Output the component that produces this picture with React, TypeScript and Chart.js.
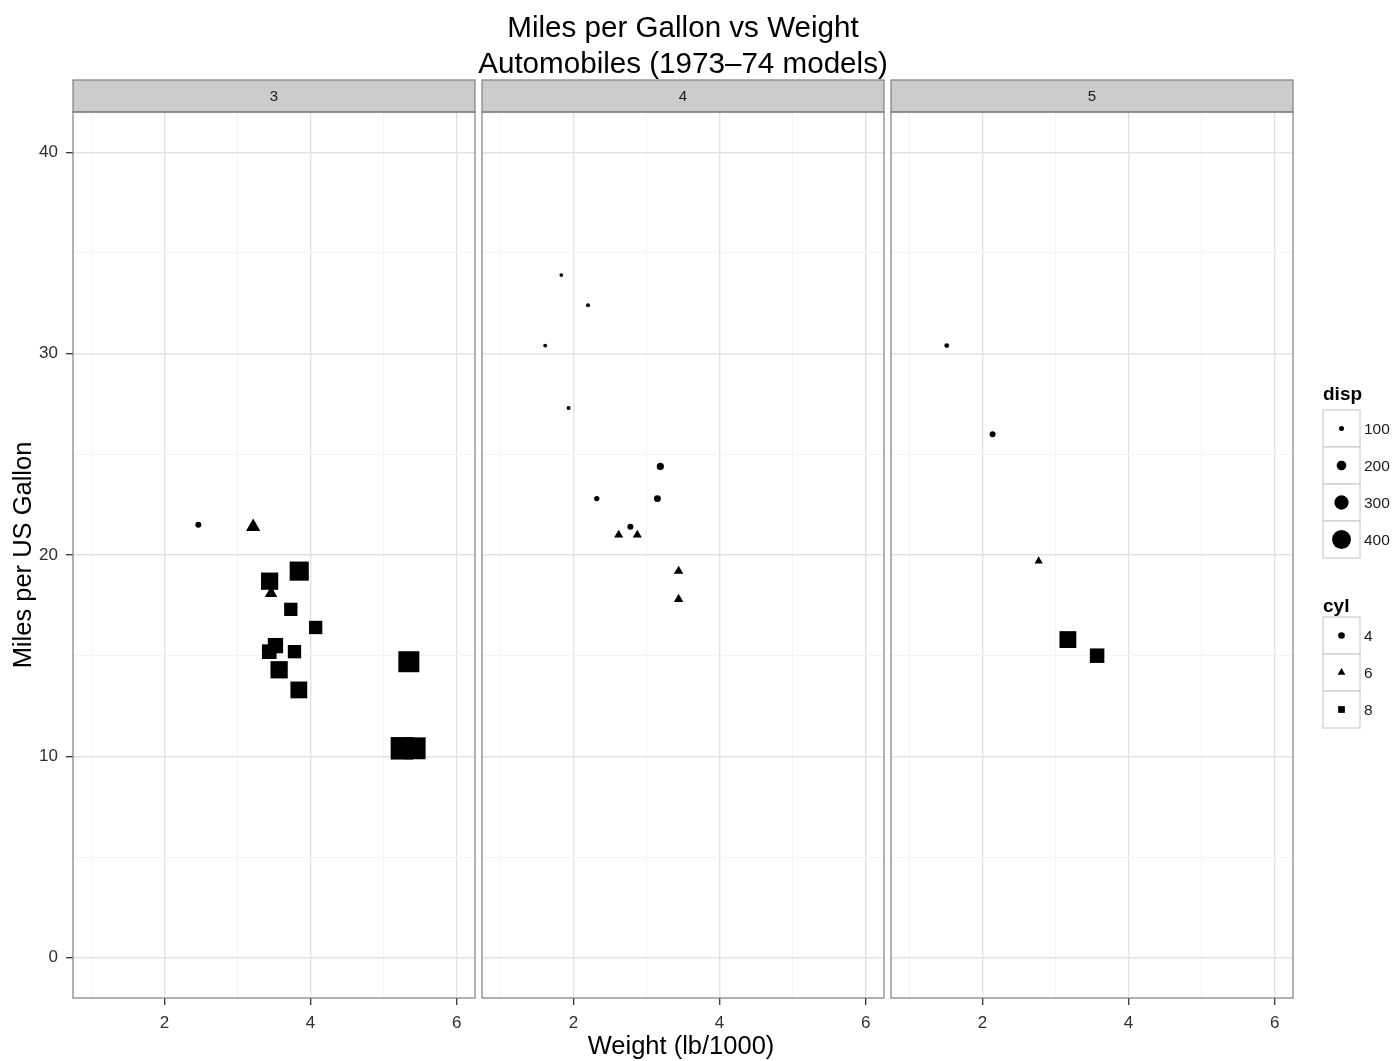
import React, { useEffect, useRef } from 'react';
import { Chart, registerables } from 'chart.js';

Chart.register(...registerables);

// ---------------- data (mtcars) ----------------
const carNames = [
  'Mazda RX4', 'Mazda RX4 Wag', 'Datsun 710', 'Hornet 4 Drive', 'Hornet Sportabout', 'Valiant',
  'Duster 360', 'Merc 240D', 'Merc 230', 'Merc 280', 'Merc 280C', 'Merc 450SE', 'Merc 450SL',
  'Merc 450SLC', 'Cadillac Fleetwood', 'Lincoln Continental', 'Chrysler Imperial', 'Fiat 128',
  'Honda Civic', 'Toyota Corolla', 'Toyota Corona', 'Dodge Challenger', 'AMC Javelin', 'Camaro Z28',
  'Pontiac Firebird', 'Fiat X1-9', 'Porsche 914-2', 'Lotus Europa', 'Ford Pantera L', 'Ferrari Dino',
  'Maserati Bora', 'Volvo 142E',
];
const mpg = [21, 21, 22.8, 21.4, 18.7, 18.1, 14.3, 24.4, 22.8, 19.2, 17.8, 16.4, 17.3, 15.2, 10.4, 10.4,
  14.7, 32.4, 30.4, 33.9, 21.5, 15.5, 15.2, 13.3, 19.2, 27.3, 26, 30.4, 15.8, 19.7, 15, 21.4];
const wt = [2.62, 2.875, 2.32, 3.215, 3.44, 3.46, 3.57, 3.19, 3.15, 3.44, 3.44, 4.07, 3.73, 3.78, 5.25,
  5.424, 5.345, 2.2, 1.615, 1.835, 2.465, 3.52, 3.435, 3.84, 3.845, 1.935, 2.14, 1.513, 3.17, 2.77, 3.57, 2.78];
const cyl = [6, 6, 4, 6, 8, 6, 8, 4, 4, 6, 6, 8, 8, 8, 8, 8, 8, 4, 4, 4, 4, 8, 8, 8, 8, 4, 4, 4, 8, 6, 8, 4];
const disp = [160, 160, 108, 258, 360, 225, 360, 146.7, 140.8, 167.6, 167.6, 275.8, 275.8, 275.8, 472, 460,
  440, 78.7, 75.7, 71.1, 120.1, 318, 304, 350, 400, 79, 120.3, 95.1, 351, 145, 301, 121];
const gear = [4, 4, 4, 3, 3, 3, 3, 4, 4, 4, 4, 3, 3, 3, 3, 3, 3, 4, 4, 4, 3, 3, 3, 3, 3, 4, 5, 5, 5, 5, 5, 4];

const gearLevels = [3, 4, 5];
const cylLevels = [4, 6, 8];
const dispBreaks = [100, 200, 300, 400];
const xMajorTicks = [2, 4, 6];
const xMinorTicks = [1, 3, 5];
const yMajorTicks = [0, 10, 20, 30, 40];
const yMinorTicks = [5, 15, 25, 35];
const xLimits = [0.75, 6.25];
const yLimits = [-2, 42];

const titleLines = ['Miles per Gallon vs Weight', 'Automobiles (1973\u201374 models)'];
const xTitle = 'Weight (lb/1000)';
const yTitle = 'Miles per US Gallon';

// ---------------- layout / style ----------------
const FONT = "'Liberation Sans', Arial, Helvetica, sans-serif";
const PAGE_W = 1399;
const PAGE_H = 1061;
const PANEL_LEFT = [73, 482, 891];
const PANEL_W = 402;
const PANEL_TOP = 112;
const PANEL_BOTTOM = 998;
const STRIP_TOP = 80;
const Y_AXIS_W = 73;
const X_AXIS_H = 40;

const DISP_MIN = Math.min(...disp);
const DISP_MAX = Math.max(...disp);
const ggSize = (d: number) => 1 + (5 * (d - DISP_MIN)) / (DISP_MAX - DISP_MIN);
const PX_PER_SIZE: Record<number, number> = { 4: 3.7, 6: 4.3, 8: 3.75 };
const SHAPE: Record<number, string> = { 4: 'circle', 6: 'triangle', 8: 'rect' };

function radiusFor(c: number, extent: number) {
  if (c === 4) return extent / 2;
  if (c === 6) return extent / Math.sqrt(3);
  return extent / Math.SQRT2;
}

function drawShape(ctx: CanvasRenderingContext2D, c: number, x: number, y: number, extent: number) {
  ctx.beginPath();
  if (c === 4) {
    ctx.arc(x, y, extent / 2, 0, Math.PI * 2);
  } else if (c === 6) {
    const r = extent / Math.sqrt(3);
    ctx.moveTo(x, y - r);
    ctx.lineTo(x + extent / 2, y + r / 2);
    ctx.lineTo(x - extent / 2, y + r / 2);
    ctx.closePath();
  } else {
    ctx.rect(x - extent / 2, y - extent / 2, extent, extent);
  }
  ctx.fill();
}

function facetPlugin(g: number, i: number) {
  return {
    id: 'facet' + i,
    afterDraw(chart: any) {
      const ctx: CanvasRenderingContext2D = chart.ctx;
      const a = chart.chartArea;
      const w = a.right - a.left;
      ctx.save();
      // strip
      ctx.fillStyle = '#CCCCCC';
      ctx.fillRect(a.left, STRIP_TOP, w, a.top - STRIP_TOP);
      ctx.strokeStyle = '#7F7F7F';
      ctx.lineWidth = 1.2;
      ctx.strokeRect(a.left, STRIP_TOP, w, a.top - STRIP_TOP);
      ctx.fillStyle = '#1A1A1A';
      ctx.font = `15px ${FONT}`;
      ctx.textAlign = 'center';
      ctx.textBaseline = 'middle';
      ctx.fillText(String(g), a.left + w / 2, (STRIP_TOP + a.top) / 2 + 1);
      // panel border
      ctx.strokeRect(a.left, a.top, w, a.bottom - a.top);

      ctx.fillStyle = '#000';
      if (i === 0) {
        ctx.save();
        ctx.translate(31, (PANEL_TOP + PANEL_BOTTOM) / 2);
        ctx.rotate(-Math.PI / 2);
        ctx.font = `25.5px ${FONT}`;
        ctx.textAlign = 'center';
        ctx.textBaseline = 'alphabetic';
        ctx.fillText(yTitle, 0, 0);
        ctx.restore();
      }
      if (i === 1) {
        const cx = (PANEL_LEFT[0] + PANEL_LEFT[2] + PANEL_W) / 2;
        ctx.font = `29.6px ${FONT}`;
        ctx.textAlign = 'center';
        ctx.textBaseline = 'alphabetic';
        ctx.fillText(titleLines[0], cx, 37);
        ctx.fillText(titleLines[1], cx, 73);
        ctx.font = `25.5px ${FONT}`;
        ctx.fillText(xTitle, cx - 2, 1054);
      }
      if (i === 2) {
        const LX = 1323;
        const KEY = 37;
        const drawKeys = (title: string, titleBase: number, top: number, items: any[]) => {
          ctx.fillStyle = '#000';
          ctx.font = `bold 19px ${FONT}`;
          ctx.textAlign = 'left';
          ctx.textBaseline = 'alphabetic';
          ctx.fillText(title, LX, titleBase);
          items.forEach((it, j) => {
            const ty = top + j * KEY;
            ctx.fillStyle = '#FFFFFF';
            ctx.fillRect(LX, ty, KEY, KEY);
            ctx.strokeStyle = '#CCCCCC';
            ctx.lineWidth = 1.2;
            ctx.strokeRect(LX, ty, KEY, KEY);
            ctx.fillStyle = '#000';
            drawShape(ctx, it.shape, LX + KEY / 2, ty + KEY / 2, it.extent);
            ctx.fillStyle = '#1A1A1A';
            ctx.font = `15.5px ${FONT}`;
            ctx.textBaseline = 'middle';
            ctx.fillText(it.label, LX + KEY + 4, ty + KEY / 2 + 1);
            ctx.textBaseline = 'alphabetic';
          });
        };
        drawKeys('disp', 400, 410, dispBreaks.map((b) => ({ shape: 4, extent: ggSize(b) * PX_PER_SIZE[4], label: String(b) })));
        drawKeys('cyl', 612, 617, cylLevels.map((c) => ({ shape: c, extent: 1.8 * PX_PER_SIZE[c], label: String(c) })));
      }
      ctx.restore();
    },
  };
}

function makeChart(canvas: HTMLCanvasElement, g: number, i: number) {
  const idx = wt.map((_, k) => k).filter((k) => gear[k] === g);
  const isFirst = i === 0;
  const xIsMajor = (v: number) => xMajorTicks.includes(v);
  const yIsMajor = (v: number) => yMajorTicks.includes(v);
  const pointRadius = (c: any) => {
    if (!c.raw) return 3;
    const k = c.raw.k;
    return radiusFor(cyl[k], ggSize(disp[k]) * PX_PER_SIZE[cyl[k]]);
  };
  const pointStyle = (c: any) => (c.raw ? SHAPE[cyl[c.raw.k]] : 'circle');

  return new Chart(canvas, {
    type: 'scatter',
    data: {
      datasets: [
        {
          label: 'gear ' + g,
          data: idx.map((k) => ({ x: wt[k], y: mpg[k], k, name: carNames[k] })),
          pointStyle,
          pointRadius,
          pointHoverRadius: pointRadius,
          pointBackgroundColor: '#000000',
          pointBorderWidth: 0,
          pointHoverBorderWidth: 0,
        } as any,
      ],
    },
    options: {
      responsive: false,
      animation: false,
      events: [],
      layout: {
        padding: {
          left: PANEL_LEFT[i] - (isFirst ? Y_AXIS_W : 0),
          right: PAGE_W - PANEL_LEFT[i] - PANEL_W,
          top: PANEL_TOP,
          bottom: PAGE_H - PANEL_BOTTOM - X_AXIS_H,
        },
      },
      plugins: {
        legend: { display: false },
        tooltip: { enabled: false },
        title: { display: false },
      },
      scales: {
        x: {
          type: 'linear',
          position: 'bottom',
          min: xLimits[0],
          max: xLimits[1],
          afterBuildTicks: (s: any) => {
            s.ticks = [...xMinorTicks, ...xMajorTicks].sort((a, b) => a - b).map((v) => ({ value: v }));
          },
          afterFit: (s: any) => {
            s.height = X_AXIS_H;
          },
          border: { display: false },
          grid: {
            color: (c: any) => (c.tick && xIsMajor(c.tick.value) ? '#E3E3E3' : '#F4F4F4'),
            lineWidth: (c: any) => (c.tick && xIsMajor(c.tick.value) ? 1.4 : 1),
            drawTicks: true,
            tickLength: 7,
            tickWidth: 1.3,
            tickColor: (c: any) => (c.tick && xIsMajor(c.tick.value) ? '#333333' : 'rgba(0,0,0,0)'),
          },
          ticks: {
            autoSkip: false,
            maxRotation: 0,
            padding: 8,
            color: '#2E2E2E',
            font: { family: FONT, size: 17 },
            callback: (v: any) => (xIsMajor(Number(v)) ? String(v) : ''),
          },
        },
        y: {
          type: 'linear',
          position: 'left',
          min: yLimits[0],
          max: yLimits[1],
          afterBuildTicks: (s: any) => {
            s.ticks = [...yMinorTicks, ...yMajorTicks].sort((a, b) => a - b).map((v) => ({ value: v }));
          },
          afterFit: (s: any) => {
            s.width = isFirst ? Y_AXIS_W : 0;
          },
          border: { display: false },
          grid: {
            color: (c: any) => (c.tick && yIsMajor(c.tick.value) ? '#E3E3E3' : '#F4F4F4'),
            lineWidth: (c: any) => (c.tick && yIsMajor(c.tick.value) ? 1.4 : 1),
            drawTicks: isFirst,
            tickLength: 7,
            tickWidth: 1.3,
            tickColor: (c: any) => (c.tick && yIsMajor(c.tick.value) ? '#333333' : 'rgba(0,0,0,0)'),
          },
          ticks: {
            display: isFirst,
            autoSkip: false,
            padding: 8,
            color: '#2E2E2E',
            font: { family: FONT, size: 17 },
            callback: (v: any) => (yIsMajor(Number(v)) ? String(v) : ''),
          },
        },
      },
    } as any,
    plugins: [facetPlugin(g, i)],
  });
}

export default function App() {
  const c0 = useRef<HTMLCanvasElement>(null);
  const c1 = useRef<HTMLCanvasElement>(null);
  const c2 = useRef<HTMLCanvasElement>(null);
  const refs = [c0, c1, c2];

  useEffect(() => {
    const charts = gearLevels.map((g, i) => makeChart(refs[i].current as HTMLCanvasElement, g, i));
    return () => charts.forEach((c) => c.destroy());
  }, []);

  return (
    <div style={{ position: 'absolute', left: 0, top: 0, width: PAGE_W, height: PAGE_H, background: '#FFFFFF' }}>
      {gearLevels.map((g, i) => (
        <canvas
          key={g}
          ref={refs[i]}
          width={PAGE_W}
          height={PAGE_H}
          style={{ position: 'absolute', left: 0, top: 0, width: PAGE_W, height: PAGE_H }}
        />
      ))}
    </div>
  );
}
